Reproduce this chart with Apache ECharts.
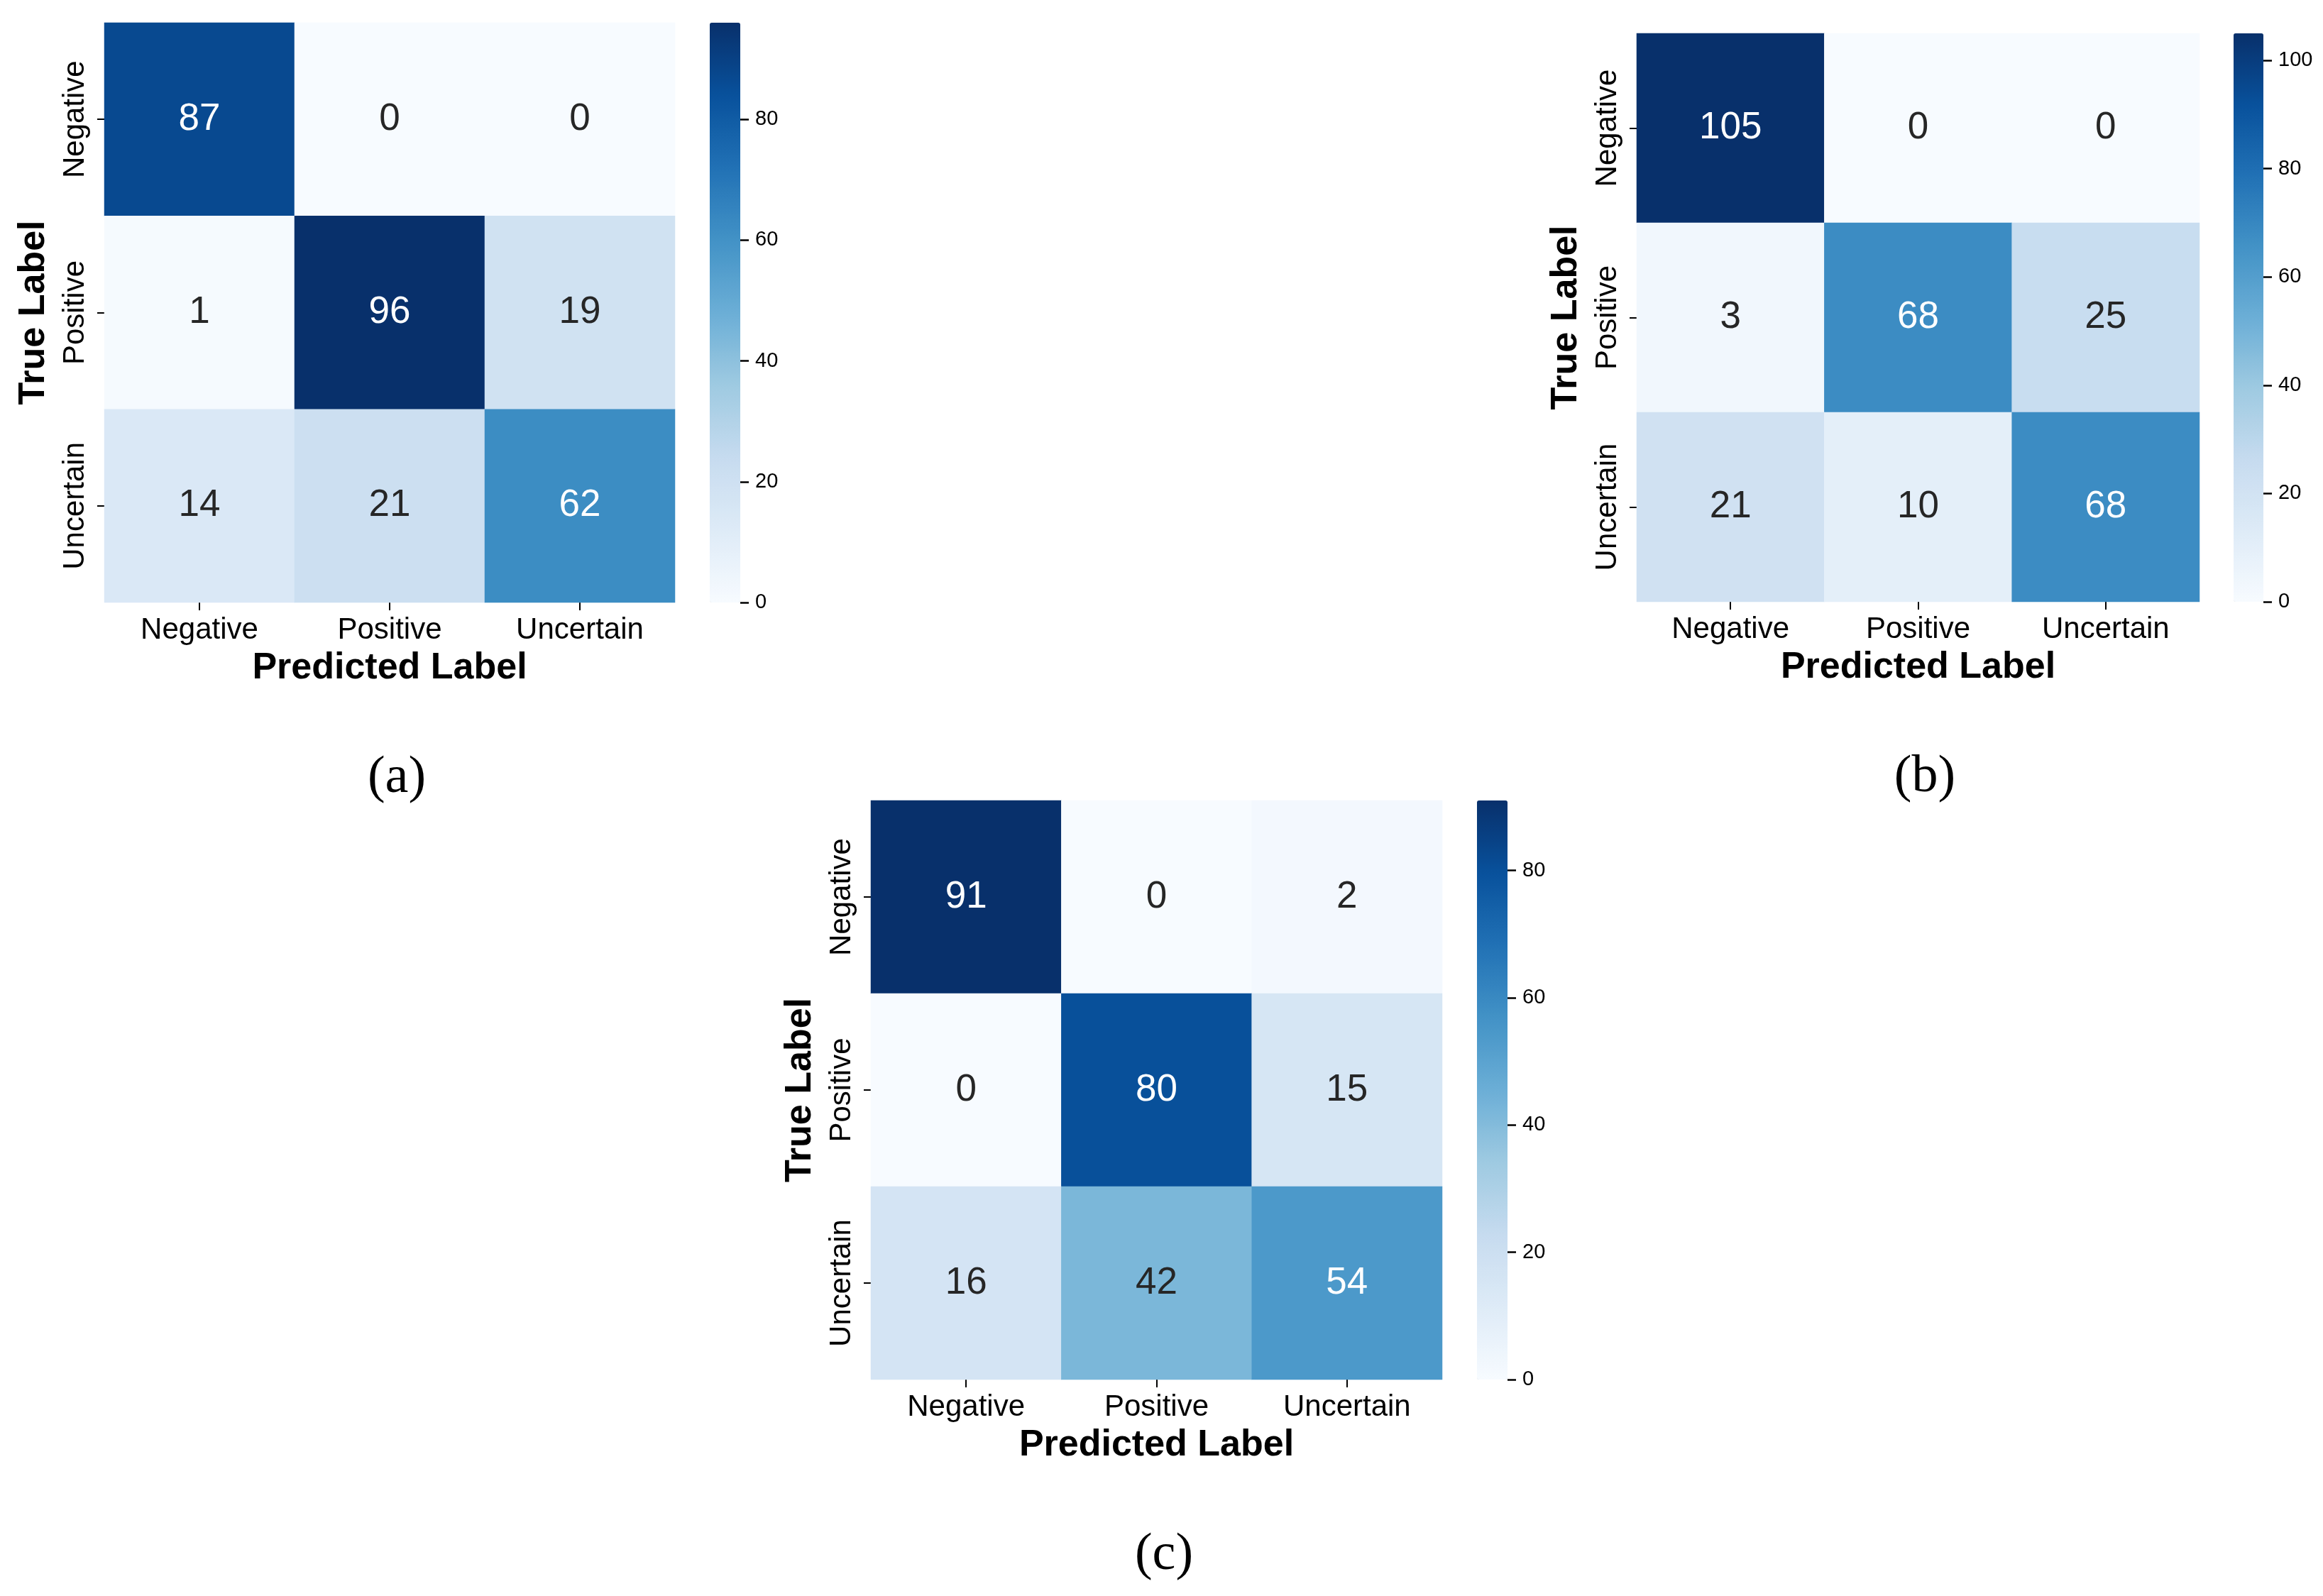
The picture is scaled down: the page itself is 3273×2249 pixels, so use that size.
<!DOCTYPE html>
<html>
<head>
<meta charset="utf-8">
<title>Confusion matrices</title>
<script src="https://cdn.jsdelivr.net/npm/echarts@6/dist/echarts.min.js"></script>
<style>
  html, body { margin: 0; padding: 0; background: #fff; }
  #chart { width: 3273px; height: 2249px; }
</style>
</head>
<body>
<div id="chart"></div>
<script>
// class labels, same for rows (true) and columns (predicted)
const categories = ['Negative', 'Positive', 'Uncertain'];

// rows = true label, columns = predicted label
const matrixA = [[87, 0, 0], [1, 96, 19], [14, 21, 62]];
const matrixB = [[105, 0, 0], [3, 68, 25], [21, 10, 68]];
const matrixC = [[91, 0, 2], [0, 80, 15], [16, 42, 54]];

const panelNames = ['(a)', '(b)', '(c)'];
const colorbarStep = 20;

// matplotlib "Blues"
const blues = ['#f7fbff', '#deebf7', '#c6dbef', '#9ecae1', '#6baed6',
               '#4292c6', '#2171b5', '#08519c', '#08306b'];

const FONT = '"Liberation Sans", Arial, Helvetica, sans-serif';

// layout of each panel: heatmap box and colorbar box
const panels = [
  { m: matrixA, grid: { left: 147, top: 32, width: 804, height: 817 },
    bar: { left: 1000, width: 43 }, caption: [559, 1097] },
  { m: matrixB, grid: { left: 2306, top: 47, width: 793, height: 801 },
    bar: { left: 3147, width: 42 }, caption: [2712, 1096] },
  { m: matrixC, grid: { left: 1227, top: 1128, width: 805, height: 816 },
    bar: { left: 2081, width: 43 }, caption: [1640, 2192] }
];

const chart = echarts.init(document.getElementById('chart'), null, { renderer: 'canvas' });

const grid = [], xAxis = [], yAxis = [], series = [], visualMap = [], graphic = [];

panels.forEach((p, k) => {
  const maxVal = Math.max(...p.m.flat());

  // heatmap grid
  grid.push(Object.assign({ containLabel: false }, p.grid));
  xAxis.push({
    type: 'category', gridIndex: 2 * k, data: categories,
    axisLine: { show: false },
    axisTick: { show: true, alignWithLabel: true, length: 11, lineStyle: { color: '#000', width: 2 } },
    axisLabel: { fontSize: 42, color: '#000', fontFamily: FONT, margin: 18 },
    splitLine: { show: false },
    name: 'Predicted Label', nameLocation: 'middle', nameGap: 67,
    nameTextStyle: { fontSize: 52, fontWeight: 'bold', color: '#000', fontFamily: FONT }
  });
  yAxis.push({
    type: 'category', gridIndex: 2 * k, data: categories, inverse: true,
    axisLine: { show: false },
    axisTick: { show: true, alignWithLabel: true, length: 10, lineStyle: { color: '#000', width: 2 } },
    axisLabel: { fontSize: 42, color: '#000', fontFamily: FONT, rotate: 90, margin: 20 },
    splitLine: { show: false },
    name: 'True Label', nameLocation: 'middle', nameGap: 73, nameRotate: 90,
    nameTextStyle: { fontSize: 52, fontWeight: 'bold', color: '#000', fontFamily: FONT }
  });

  const data = [];
  p.m.forEach((row, i) => row.forEach((v, j) => {
    data.push({
      value: [j, i, v],
      label: { color: v / maxVal > 0.5 ? '#ffffff' : '#262626' }
    });
  }));
  series.push({
    type: 'heatmap', xAxisIndex: 2 * k, yAxisIndex: 2 * k, data: data,
    label: { show: true, fontSize: 53, fontFamily: FONT, formatter: (d) => d.value[2] },
    itemStyle: { borderWidth: 0 },
    emphasis: { disabled: true }
  });

  // colorbar: gradient from visualMap, ticks from a value axis beside it
  visualMap.push({
    type: 'continuous', seriesIndex: k, dimension: 2,
    min: 0, max: maxVal, calculable: false, realtime: false, hoverLink: false,
    orient: 'vertical', left: p.bar.left, top: p.grid.top,
    itemWidth: p.bar.width, itemHeight: p.grid.height,
    padding: 0, text: null, showLabel: false, z: 2,
    inRange: { color: blues }
  });
  grid.push({ left: p.bar.left, top: p.grid.top, width: p.bar.width, height: p.grid.height, containLabel: false });
  xAxis.push({ type: 'value', gridIndex: 2 * k + 1, show: false, min: 0, max: 1 });
  yAxis.push({
    type: 'value', gridIndex: 2 * k + 1, position: 'right', z: 10,
    min: 0, max: maxVal, interval: colorbarStep,
    axisLine: { show: false, onZero: false },
    axisTick: { show: true, inside: false, length: 12, lineStyle: { color: '#000', width: 2.5 } },
    axisLabel: { fontSize: 29, color: '#000', fontFamily: FONT, margin: 21, showMaxLabel: maxVal % colorbarStep === 0 },
    splitLine: { show: false }
  });

  graphic.push({
    type: 'text', x: p.caption[0], y: p.caption[1],
    style: {
      text: panelNames[k], fill: '#000',
      font: '74px "Liberation Serif", "Times New Roman", serif',
      textAlign: 'center', textVerticalAlign: 'middle'
    }
  });
});

chart.setOption({
  animation: false,
  backgroundColor: '#ffffff',
  grid: grid,
  xAxis: xAxis,
  yAxis: yAxis,
  visualMap: visualMap,
  series: series,
  graphic: graphic
});
</script>
</body>
</html>
